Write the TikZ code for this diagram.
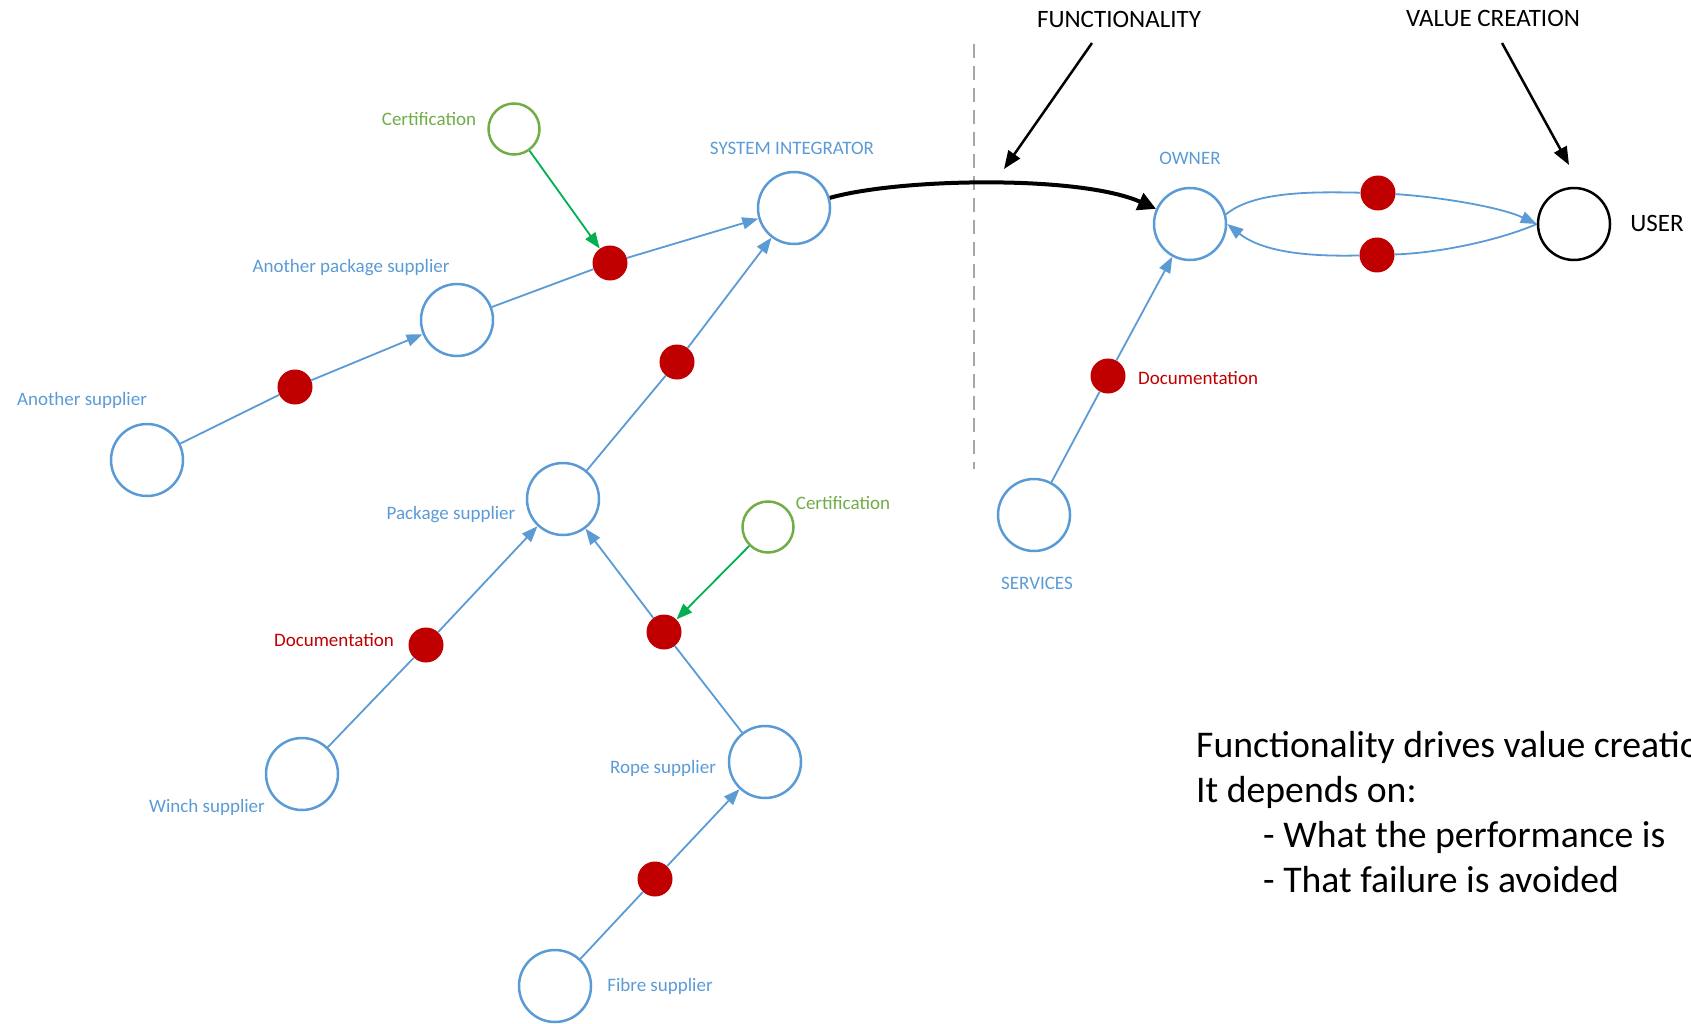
\documentclass[tikz,border=0pt]{standalone}
\usepackage{fontspec}
\setmainfont{Carlito}
\usetikzlibrary{arrows.meta}
\definecolor{partyblue}{HTML}{5B9BD5}
\definecolor{riskred}{HTML}{C00000}
\definecolor{certgreen}{HTML}{70AD47}
\definecolor{arrowgreen}{HTML}{00B050}
\tikzstyle{party}=[circle, draw=partyblue, line width=2.5pt, minimum size=72pt, inner sep=0pt]
\tikzstyle{end user}=[party, draw=black]
\tikzstyle{certificate}=[circle, draw=certgreen, line width=2.5pt, minimum size=51pt, inner sep=0pt]
\tikzstyle{risk}=[circle, fill=riskred, minimum size=35pt, inner sep=0pt]
\tikzstyle{tag}=[text=partyblue, font=\fontsize{19}{22}\selectfont, inner sep=0pt]
\tikzstyle{risk tag}=[tag, text=riskred]
\tikzstyle{cert tag}=[tag, text=certgreen]
\tikzstyle{heading}=[font=\fontsize{25}{30}\selectfont, inner sep=0pt]
\tikzstyle{flow}=[draw=partyblue, line width=1.8pt, -{Triangle[length=16pt, width=12pt]}]
\tikzstyle{certifies}=[draw=arrowgreen, line width=1.8pt, -{Triangle[length=16pt, width=12pt]}]
\tikzstyle{pointer}=[draw=black, line width=2.5pt, -{Triangle[length=18pt, width=14pt]}]
\tikzstyle{delivers}=[draw=black, line width=4pt, -{Triangle[length=18pt, width=18pt]}]

\begin{document}
\begin{tikzpicture}[x=1pt, y=-1pt]
  \clip (0,0) rectangle (1691,1024);

  % supply chain
  \node[party] (integrator) at (794,208) {};
  \node[party] (otherpackage) at (457,320) {};
  \node[party] (othersupplier) at (147,460) {};
  \node[party] (package) at (563,499) {};
  \node[party] (winch) at (302,774) {};
  \node[party] (rope) at (765,762) {};
  \node[party] (fibre) at (555,986) {};
  \node[certificate] (cert_a) at (514,129) {};
  \node[certificate] (cert_b) at (768,527) {};

  \node[risk] (risk_a) at (610,263) {};
  \node[risk] (risk_b) at (295,387) {};
  \node[risk] (risk_c) at (677,362) {};
  \node[risk] (risk_d) at (426,645) {};
  \node[risk] (risk_e) at (664,632) {};
  \node[risk] (risk_f) at (655,879) {};

  \node[tag] (integrator_tag) at (792,148) {SYSTEM INTEGRATOR};
  \node[tag] (otherpackage_tag) at (351,268) {Another package supplier};
  \node[tag] (othersupplier_tag) at (82,400) {Another supplier};
  \node[tag] (package_tag) at (451,515) {Package supplier};
  \node[tag] (winch_tag) at (207,807) {Winch supplier};
  \node[tag] (rope_tag) at (663,768) {Rope supplier};
  \node[tag] (fibre_tag) at (660,986) {Fibre supplier};
  \node[cert tag] (cert_a_tag) at (429,119) {Certification};
  \node[cert tag] (cert_b_tag) at (843,503) {Certification};
  \node[risk tag] (risk_d_tag) at (334,640) {Documentation};

  \draw[flow] (othersupplier) -- (risk_b) -- (otherpackage);
  \draw[flow] (otherpackage) -- (risk_a) -- (integrator);
  \draw[flow] (package) -- (risk_c) -- (integrator);
  \draw[flow] (winch) -- (risk_d) -- (package);
  \draw[flow] (rope) -- (risk_e) -- (package);
  \draw[flow] (fibre) -- (risk_f) -- (rope);
  \draw[certifies] (cert_a) -- (risk_a);
  \draw[certifies] (cert_b) -- (risk_e);

  % boundary
  \draw[gray!70, line width=1.2pt, dash pattern=on 14pt off 8pt] (974,44) -- (974,469);

  % operation
  \node[party] (owner) at (1190,224) {};
  \node[party] (services) at (1034,515) {};
  \node[end user] (user) at (1574,224) {};
  \node[risk] (risk_g) at (1108,376) {};
  \node[risk] (risk_h) at (1378,193) {};
  \node[risk] (risk_i) at (1377,255) {};

  \node[tag] (owner_tag) at (1190,158) {OWNER};
  \node[tag] (services_tag) at (1037,583) {SERVICES};
  \node[heading] (user_tag) at (1657,223) {USER};
  \node[risk tag, anchor=west] (risk_g_tag) at (1138,378) {Documentation};

  \draw[delivers] (integrator) .. controls (900,178) and (1080,175) .. (owner);
  \draw[flow] (services) -- (risk_g) -- (owner);
  \draw[flow] (owner.15) .. controls (1255,190) and (1320,192) .. (risk_h)
    .. controls (1440,197) and (1500,207) .. (user.west);
  \draw[flow] (user.west) .. controls (1500,240) and (1440,253) .. (risk_i)
    .. controls (1300,257) and (1260,250) .. (owner.east);

  % headings
  \node[heading] (functionality) at (1119,19) {FUNCTIONALITY};
  \node[heading] (value) at (1493,18) {VALUE CREATION};
  \coordinate (functionality_end) at (1004,169);
  \coordinate (value_end) at (1569,165);
  \draw[pointer] (1092,43) -- (functionality_end);
  \draw[pointer] (1502,43) -- (value_end);

  \node[anchor=base west, align=left, inner sep=0pt,
    font=\fontsize{37.7}{45}\selectfont] (summary) at (1196,892)
    {Functionality drives value creation\\
     It depends on:\\
     \hspace*{67pt}- What the performance is\\
     \hspace*{67pt}- That failure is avoided};
\end{tikzpicture}
\end{document}
